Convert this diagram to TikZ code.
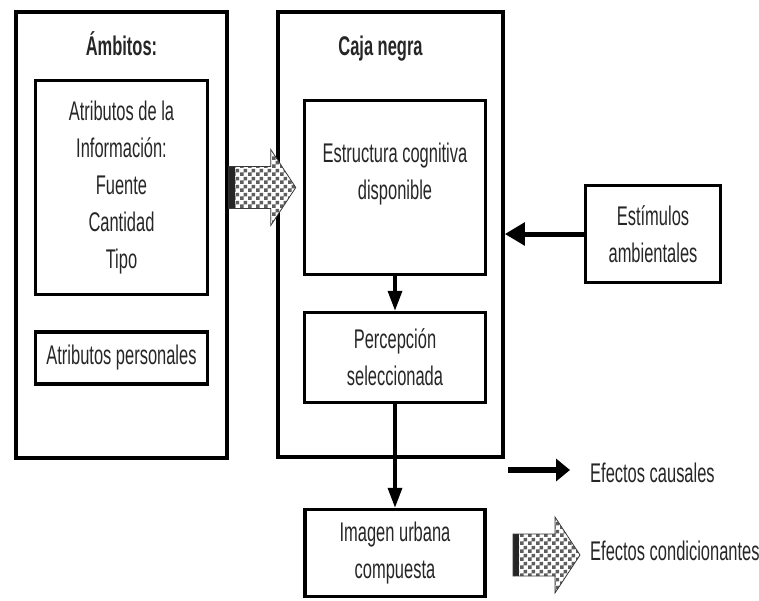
\documentclass[tikz,border=0pt]{standalone}
\usepackage{fontspec}
\setmainfont{Liberation Sans}[FakeStretch=0.61]
\usetikzlibrary{arrows.meta,positioning,calc,patterns}
\definecolor{Line}{HTML}{000000}
\definecolor{Txt}{HTML}{262626}
\definecolor{Cuadro}{HTML}{5E5E5E}
\definecolor{Borde}{HTML}{3A3A3A}
% checker tiles of 4pt
\pgfdeclarepatternformonly{ajedrez}{\pgfpointorigin}{\pgfqpoint{8pt}{8pt}}{\pgfqpoint{8pt}{8pt}}{%
 \pgfpathrectangle{\pgfpointorigin}{\pgfqpoint{4pt}{4pt}}%
 \pgfpathrectangle{\pgfqpoint{4pt}{4pt}}{\pgfqpoint{4pt}{4pt}}%
 \pgfusepath{fill}}

\begin{document}
\begin{tikzpicture}[
 x=1pt,y=-1pt,
 font=\fontsize{27}{37}\selectfont,text=Txt,
 b/.style={draw=Line,line width=3.5pt,inner sep=0pt,align=center},
 tit/.style={font=\bfseries\fontsize{27}{37}\selectfont,inner sep=0pt},
 t/.style={align=center,inner sep=0pt},
 a/.style={-{Triangle[length=20pt,width=22pt]},line width=5pt,draw=Line},
 av/.style={-{Triangle[length=20pt,width=14pt]},line width=3.5pt,draw=Line},
 cond/.pic={
  \fill[white] (0,-21) -- (42,-21) -- (42,-38) -- (67,0) -- (42,38) -- (42,21) -- (0,21) -- cycle;
  \fill[pattern=ajedrez,pattern color=Cuadro] (0,-21) -- (42,-21) -- (42,-38) -- (67,0) -- (42,38) -- (42,21) -- (0,21) -- cycle;
  \fill[black!85] (0,-21) rectangle (6,21);
  \draw[Borde,line width=0.8pt,line join=miter] (0,-21) -- (42,-21) -- (42,-38) -- (67,0) -- (42,38) -- (42,21) -- (0,21) -- cycle;
 }
]
\useasboundingbox (0,0) rectangle (759,600);

% left block
\node[b,minimum width=211pt,minimum height=446pt] (ambitos) at (121.5,235) {};
\node[tit,anchor=base] (titamb) at ([yshift=-45pt]ambitos.north) {Ámbitos:};
\node[b,minimum width=172pt,minimum height=214pt] (atribinfo) at (121.5,187.5)
 {Atributos de la\\Información:\\Fuente\\Cantidad\\Tipo};
\node[b,minimum width=172pt,minimum height=52pt] (atribpers) at (121.5,358) {Atributos personales};

% black box
\node[b,minimum width=225pt,minimum height=445pt] (caja) at (390.5,234.5) {};
\node[tit,anchor=base] (titcaja) at ([xshift=-10pt,yshift=-45pt]caja.north) {Caja negra};
\node[b,minimum width=181pt,minimum height=174pt] (estructura) at (395,187.5) {};
\node[t] (txtestr) at ([yshift=13pt]estructura.center) {Estructura cognitiva\\disponible};
\node[b,minimum width=181pt,minimum height=90pt] (percepcion) at (395,357.5) {Percepción\\seleccionada};

\node[b,minimum width=135pt,minimum height=97pt] (estimulos) at (653,234) {Estímulos\\ambientales};
\node[b,minimum width=180pt,minimum height=87pt] (imagen) at (395,553) {Imagen urbana\\compuesta};

\draw[av] (estructura) -- (percepcion);
\draw[av] (percepcion.south) -- (percepcion.south |- imagen.north);
\draw[a] (estimulos.west) -- (caja.east |- estimulos.west);

\pic at (ambitos.east |- atribinfo.center) {cond};

% legend
\coordinate (leyc0) at (508,470);
\coordinate (leyc1) at (570,470);
\draw[-{Triangle[length=14pt,width=22pt]},line width=6pt,draw=Line] (leyc0) -- (leyc1);
\node[anchor=base west,inner sep=0pt] (txtcausal) at (590,482) {Efectos causales};
\pic at (513,555) {cond};
\node[anchor=base west,inner sep=0pt] (txtcond) at (590,560) {Efectos condicionantes};
\end{tikzpicture}
\end{document}
